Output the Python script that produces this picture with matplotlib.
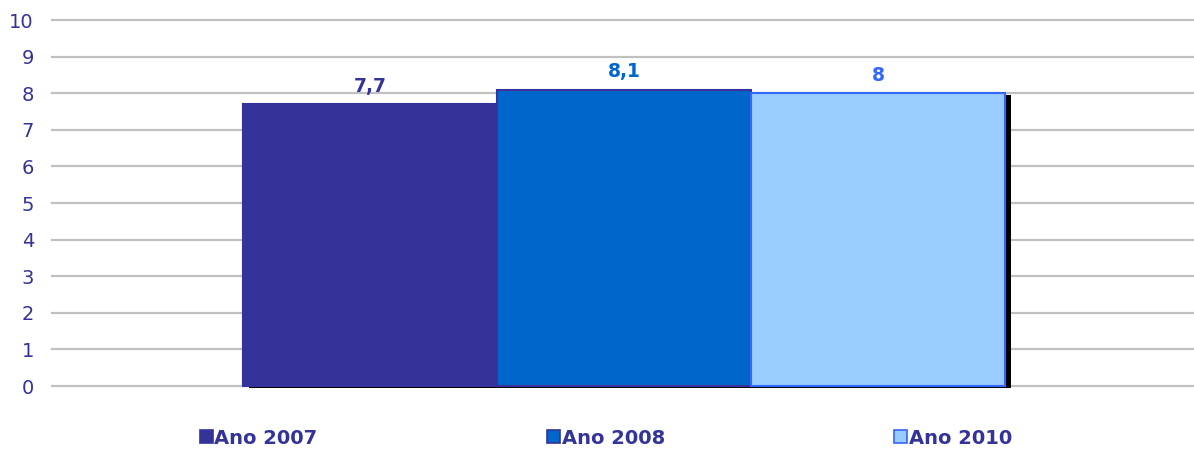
import numpy as np
import matplotlib
matplotlib.use("Agg")
import matplotlib.pyplot as plt
from matplotlib.patches import Patch
import matplotlib.patheffects as pe

# data
series = ["Ano 2007", "Ano 2008", "Ano 2010"]
values = [7.7, 8.1, 8.0]
value_labels = ["7,7", "8,1", "8"]

fill_colors = ["#333399", "#0066CC", "#99CCFF"]
edge_colors = ["#333399", "#333399", "#3366FF"]
text_colors = ["#333399", "#0066CC", "#3366FF"]
axis_color = "#333399"

fig = plt.figure(figsize=(11.94, 4.49), dpi=100)
ax = fig.add_axes([52 / 1194, 63 / 449, 1 - 52 / 1194, 366 / 449])

x = np.arange(len(series)) - 1.0
for i in range(len(series)):
    ax.bar(x[i], values[i], width=1.0, color=fill_colors[i], edgecolor=edge_colors[i],
           linewidth=1.5, zorder=3, clip_on=False,
           path_effects=[pe.SimplePatchShadow(offset=(4.3, -1.5), shadow_rgbFace="black", alpha=1.0),
                         pe.Normal()])
    ax.annotate(value_labels[i], (x[i], values[i]), xytext=(0, 6), textcoords="offset points",
                ha="center", va="bottom", fontsize=13.5, fontweight="bold", color=text_colors[i])

ax.set_xlim((52 - 624) / 254, (1194 - 624) / 254)
ax.set_ylim(0, 10)
ax.set_yticks(range(0, 11))
ax.set_xticks([])
ax.yaxis.grid(True, color="#C0C0C0", linewidth=1.6, zorder=0)
for gl in ax.get_ygridlines():
    gl.set_clip_on(False)
ax.set_axisbelow(True)
for s in ax.spines.values():
    s.set_visible(False)
ax.tick_params(axis="y", length=0, pad=13, labelsize=14, labelcolor=axis_color)

handles = [Patch(facecolor=fill_colors[i], edgecolor=edge_colors[i], linewidth=1.2) for i in range(len(series))]
leg = fig.legend(handles, series, loc="center", bbox_to_anchor=(606 / 1194, 1 - 438 / 449), ncol=3,
                 frameon=False, handlelength=0.65, handleheight=0.65, handletextpad=0.1,
                 columnspacing=11.8, prop={"weight": "bold", "size": 14})
for t in leg.get_texts():
    t.set_color(axis_color)

fig.savefig("out.png", dpi=100)
